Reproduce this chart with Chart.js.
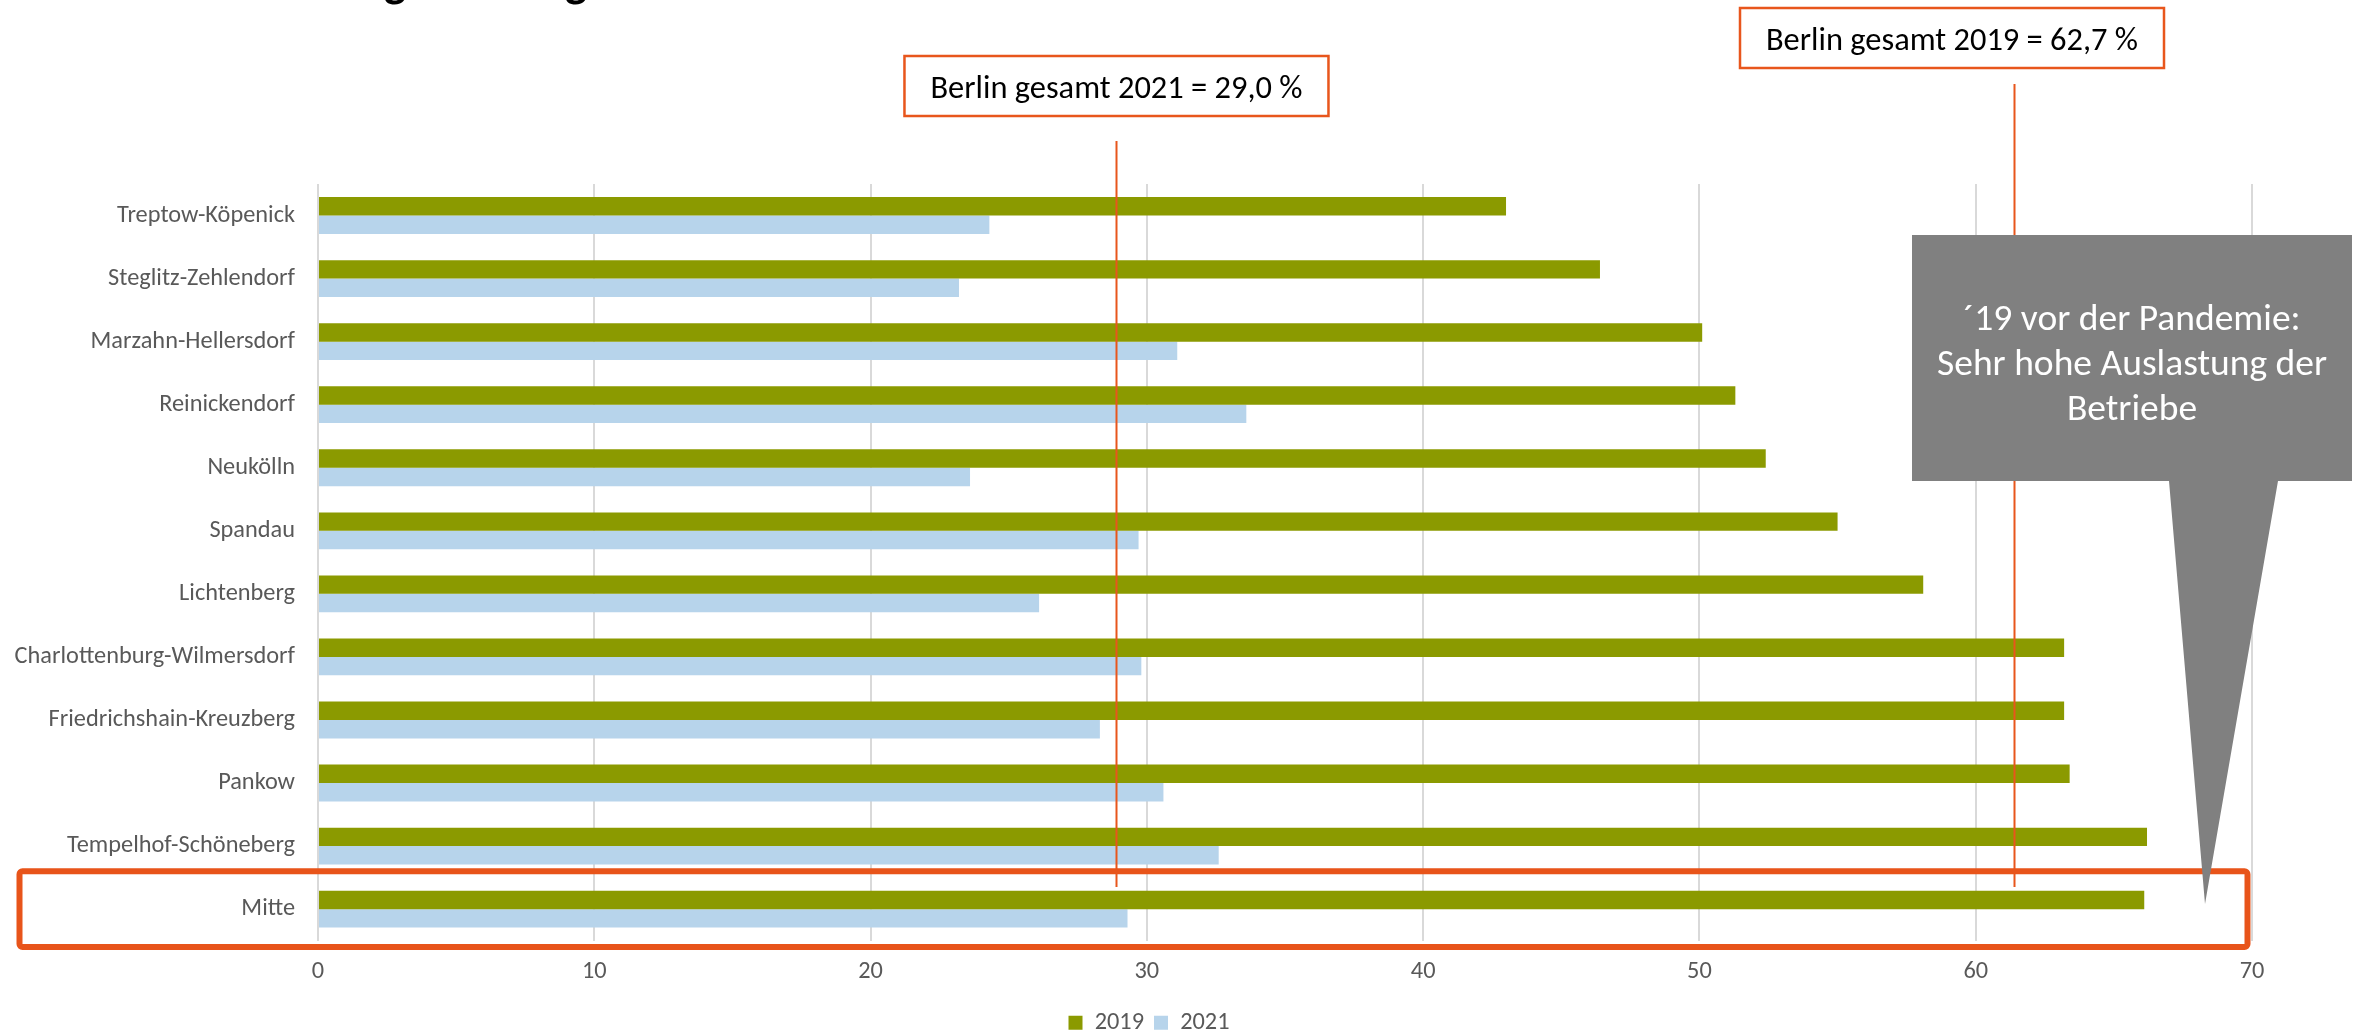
<!DOCTYPE html>
<html>
<head>
<meta charset="utf-8">
<script src="https://cdn.jsdelivr.net/npm/chart.js@4.4.1/dist/chart.umd.min.js"></script>
<style>
  html, body { margin: 0; padding: 0; background: #ffffff; overflow: hidden; }
  #wrap { width: 2359px; height: 1032px; position: relative; }
</style>
</head>
<body>
<div id="wrap"><canvas id="c" width="2359" height="1032" style="width:2359px;height:1032px"></canvas></div>
<script>
// ---------------- DATA ----------------
const categories = [
  'Treptow-Köpenick', 'Steglitz-Zehlendorf', 'Marzahn-Hellersdorf', 'Reinickendorf',
  'Neukölln', 'Spandau', 'Lichtenberg', 'Charlottenburg-Wilmersdorf',
  'Friedrichshain-Kreuzberg', 'Pankow', 'Tempelhof-Schöneberg', 'Mitte'
];
const seriesNames = ['2019', '2021'];
const values2019 = [43.0, 46.4, 50.1, 51.3, 52.4, 55.0, 58.1, 63.2, 63.2, 63.4, 66.2, 66.1];
const values2021 = [24.3, 23.2, 31.1, 33.6, 23.6, 29.7, 26.1, 29.8, 28.3, 30.6, 32.6, 29.3];
const xTicks = [0, 10, 20, 30, 40, 50, 60, 70];
const refLabels = ['Berlin gesamt 2021 = 29,0 %', 'Berlin gesamt 2019 = 62,7 %'];
const refValues = [28.9, 61.4];
const highlightCategory = 'Mitte';
const calloutLines = ['´19 vor der Pandemie:', 'Sehr hohe Auslastung der', 'Betriebe'];

// ---------------- STYLE ----------------
const GREEN = '#8B9A00';
const BLUE = '#B7D4EB';
const ORANGE = '#E8561C';
const GRID = '#D9D9D9';
const TEXT = '#595959';
const GREY = '#808080';

function hasFont(f) {
  const ctx = document.createElement('canvas').getContext('2d');
  const s = 'abcdefghijklmnopqrstuvwxyzÄÖ0123456789';
  let diff = false;
  ['monospace', 'serif'].forEach(fb => {
    ctx.font = '72px ' + fb; const a = ctx.measureText(s).width;
    ctx.font = '72px "' + f + '", ' + fb; const b = ctx.measureText(s).width;
    if (a !== b) diff = true;
  });
  return diff;
}
const FAMILY = hasFont('Carlito') ? 'Carlito' : (hasFont('Lato') ? 'Lato' : 'Open Sans');
const mctx = document.createElement('canvas').getContext('2d');
mctx.font = '24px "' + FAMILY + '"';
const K = 178 / mctx.measureText('Treptow-Köpenick').width;   // match label width of reference
const BASE = 24 * K;
const LEG = 24 * K;
const BOX = 32 * K;
const CALL = 37 * K;
const FONTSTR = (sz, w) => (w || 'normal') + ' ' + sz + 'px "' + FAMILY + '"';

// ---------------- ANNOTATIONS ----------------
const annotPlugin = {
  id: 'annot',
  afterLayout(chart) {
    const lg = chart.legend;
    if (lg) { lg.left += 23; lg.right += 23; lg.top += 13; lg.bottom += 13; }
  },
  afterDraw(chart) {
    const ctx = chart.ctx;
    const xs = chart.scales.x, ys = chart.scales.y;
    ctx.save();

    // clipped title glyphs at the very top
    ctx.font = FONTSTR(46 * K, 'bold');
    ctx.fillStyle = '#000';
    ctx.textAlign = 'center';
    ctx.textBaseline = 'alphabetic';
    const gm = ctx.measureText('g');
    const gBase = 5 - gm.actualBoundingBoxDescent;
    ctx.fillText('g', 395, gBase);
    ctx.fillText('g', 576, gBase);

    // reference lines
    const lineTops = [141, 84];
    const lineBottom = 887;
    ctx.strokeStyle = ORANGE;
    ctx.lineWidth = 2;
    refValues.forEach((v, i) => {
      const px = Math.round(xs.getPixelForValue(v)) + 0.5;
      ctx.beginPath(); ctx.moveTo(px, lineTops[i]); ctx.lineTo(px, lineBottom); ctx.stroke();
    });

    // reference label boxes
    const boxes = [
      { cx: xs.getPixelForValue(refValues[0]), top: 56, w: 424, h: 60 },
      { cx: 1952, top: 8, w: 424, h: 60 }
    ];
    boxes.forEach((b, i) => {
      const l = b.cx - b.w / 2;
      ctx.fillStyle = '#fff';
      ctx.fillRect(l, b.top, b.w, b.h);
      ctx.strokeStyle = ORANGE; ctx.lineWidth = 2.5;
      ctx.strokeRect(l, b.top, b.w, b.h);
      ctx.fillStyle = '#000';
      ctx.font = FONTSTR(BOX);
      ctx.textAlign = 'center'; ctx.textBaseline = 'alphabetic';
      ctx.fillText(refLabels[i], b.cx, b.top + 41.5);
    });

    // highlight box around Mitte
    const idx = categories.indexOf(highlightCategory);
    const yc = ys.getPixelForValue(idx);
    const band = (ys.bottom - ys.top) / categories.length;
    const top = yc - band * 0.6, bot = yc + band * 0.6;
    const left = 19.5, right = xs.getPixelForValue(70) - 4.5;
    ctx.strokeStyle = '#E8541A'; ctx.lineWidth = 6; ctx.lineJoin = 'round';
    ctx.beginPath();
    if (ctx.roundRect) ctx.roundRect(left, top, right - left, bot - top, 3);
    else ctx.rect(left, top, right - left, bot - top);
    ctx.stroke();

    // grey callout
    ctx.fillStyle = GREY;
    ctx.beginPath();
    ctx.moveTo(1912, 235); ctx.lineTo(2352, 235); ctx.lineTo(2352, 481);
    ctx.lineTo(2278, 481); ctx.lineTo(2205, 904); ctx.lineTo(2169, 481);
    ctx.lineTo(1912, 481); ctx.closePath(); ctx.fill();
    ctx.fillStyle = '#fff';
    ctx.font = FONTSTR(CALL);
    ctx.textAlign = 'center'; ctx.textBaseline = 'alphabetic';
    const bl = [330, 375, 420];
    calloutLines.forEach((t, i) => ctx.fillText(t, 2132, bl[i]));

    ctx.restore();
  }
};

// ---------------- CHART ----------------
new Chart(document.getElementById('c'), {
  type: 'bar',
  data: {
    labels: categories,
    datasets: [
      { label: seriesNames[0], data: values2019, backgroundColor: GREEN, borderWidth: 0 },
      { label: seriesNames[1], data: values2021, backgroundColor: BLUE, borderWidth: 0 }
    ]
  },
  options: {
    indexAxis: 'y',
    responsive: false,
    animation: false,
    devicePixelRatio: 1,
    categoryPercentage: 0.584,
    barPercentage: 1.0,
    layout: { padding: { top: 184, right: 107, bottom: 0, left: 0 } },
    plugins: {
      legend: {
        position: 'bottom',
        labels: {
          boxWidth: 14, boxHeight: 14, padding: 10,
          color: TEXT, font: { family: FAMILY, size: LEG }
        }
      },
      tooltip: { enabled: false },
      title: { display: false }
    },
    scales: {
      x: {
        min: 0, max: 70,
        afterBuildTicks(scale) { scale.ticks = xTicks.map(v => ({ value: v })); },
        afterFit(scale) { scale.height = 47; },
        grid: { color: GRID, lineWidth: 2, drawTicks: false },
        border: { display: false },
        ticks: { color: TEXT, padding: 17, font: { family: FAMILY, size: BASE } }
      },
      y: {
        afterFit(scale) { scale.width = 318; },
        grid: { display: false, drawTicks: false },
        border: { display: false },
        ticks: { color: TEXT, padding: 23, font: { family: FAMILY, size: BASE } }
      }
    }
  },
  plugins: [annotPlugin]
});
</script>
</body>
</html>
